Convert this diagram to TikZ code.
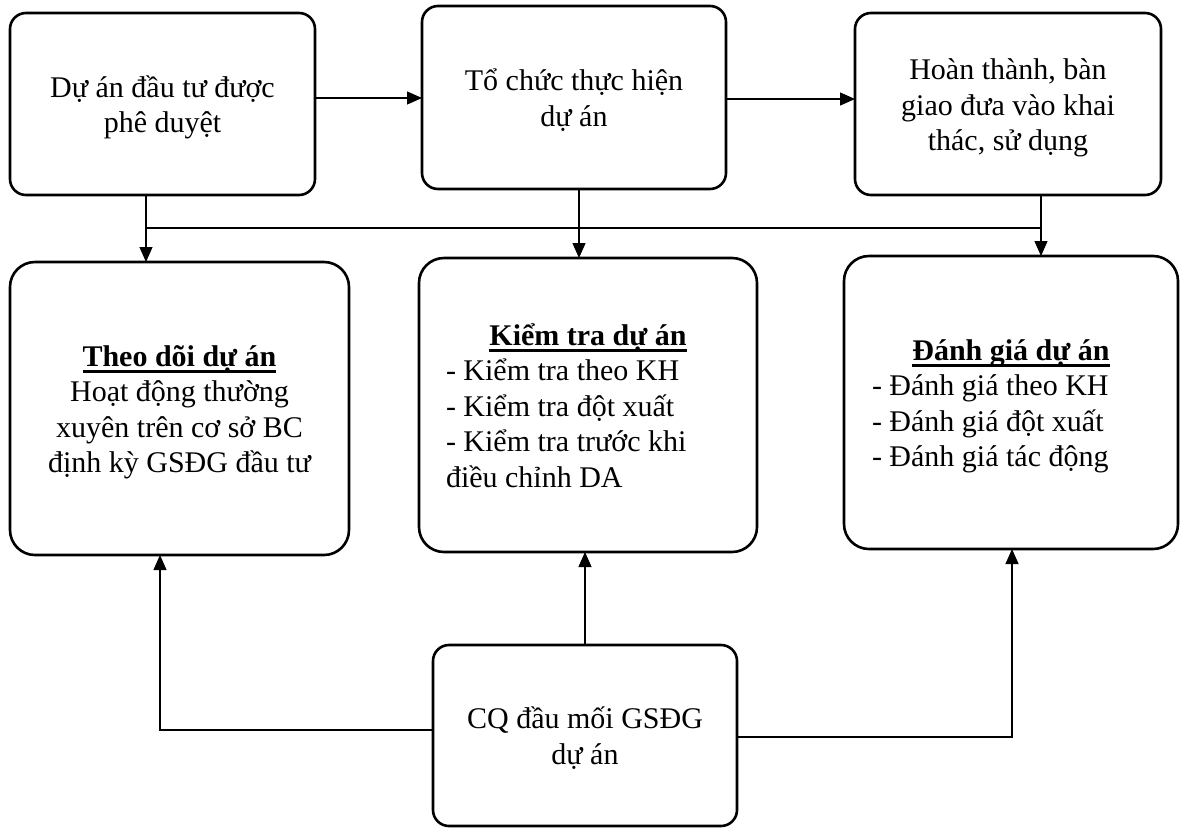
\documentclass[tikz,border=0pt]{standalone}
\usepackage{fontspec}
\setmainfont{Liberation Serif}
\usetikzlibrary{arrows.meta}

% bold heading with a heavy underline that does not disturb line spacing
\newcommand{\headul}[1]{\setbox0\hbox{\textbf{#1}}\rlap{\smash{\rule[-6.5pt]{\wd0}{2.6pt}}}\box0}
\newcommand{\boxfont}{\fontsize{30}{35.5}\selectfont}
% fixed ascent of the first line and descent of the last line of a box
\newcommand{\firstln}{\rule{0pt}{31pt}}
\newcommand{\lastln}{\rule[-9pt]{0pt}{9pt}}

\tikzset{
  box/.style={draw, line width=2.6pt, inner sep=0pt, outer sep=0pt, font=\boxfont},
  topbox/.style={box, rounded corners=16pt, align=center},
  midbox/.style={box, rounded corners=25pt},
  link/.style={line width=1.2pt},
  arr/.style={link, -{Triangle[length=15pt,width=13pt]}}
}

\begin{document}
\lineskiplimit=-100pt
\begin{tikzpicture}[x=1pt,y=-1pt]
\useasboundingbox (0,0) rectangle (1180,828);

% stages of the project
\node[topbox, minimum width=305pt, minimum height=182pt] (b1) at (162.5,104)
  {\firstln Dự án đầu tư được\\phê duyệt\lastln};
\node[topbox, minimum width=304pt, minimum height=183pt] (b2) at (574,97.5)
  {\firstln Tổ chức thực hiện\\dự án\lastln};
\node[topbox, minimum width=306pt, minimum height=182pt] (b3) at (1008,104)
  {\firstln Hoàn thành, bàn\\giao đưa vào khai\\thác, sử dụng\lastln};

% supervision activities
\node[midbox, align=center, minimum width=339pt, minimum height=293pt] (b4) at (179.5,408.5)
  {\firstln\headul{Theo dõi dự án}\\Hoạt động thường\\xuyên trên cơ sở BC\\định kỳ GSĐG đầu tư\lastln};
\node[midbox, align=left, minimum width=338pt, minimum height=294pt] (b5) at (588,405)
  {\firstln\makebox[284pt]{\headul{Kiểm tra dự án}}\\- Kiểm tra theo KH\\- Kiểm tra đột xuất\\- Kiểm tra trước khi\\điều chỉnh DA\lastln};
\node[midbox, align=left, minimum width=334pt, minimum height=293pt] (b6) at (1011,402.5)
  {\firstln\makebox[278pt]{\headul{Đánh giá dự án}}\\- Đánh giá theo KH\\- Đánh giá đột xuất\\- Đánh giá tác động\lastln};

% coordinating agency
\node[topbox, minimum width=304pt, minimum height=181pt] (b7) at (585,735.5)
  {\firstln CQ đầu mối GSĐG\\dự án\lastln};

% flow between stages
\draw[arr] (b1.east |- 0,98) -- (b2.west |- 0,98);
\draw[arr] (b2.east |- 0,99) -- (b3.west |- 0,99);

% common bus feeding the supervision boxes
\coordinate (busL) at (146,228);
\coordinate (busR) at (1041,228);
\draw[link] (busL) -- (busR);
\draw[arr] (b1.south -| busL) -- (b4.north -| busL);
\draw[arr] (b2.south -| 579,0) -- (b5.north -| 579,0);
\draw[arr] (b3.south -| busR) -- (b6.north -| busR);

% links from the coordinating agency
\draw[arr] (b7.north -| 585,0) -- (b5.south -| 585,0);
\draw[arr] (b7.west |- 0,730) -| (b4.south -| 160,0);
\draw[arr] (b7.east |- 0,737) -| (b6.south -| 1012,0);
\end{tikzpicture}
\end{document}
